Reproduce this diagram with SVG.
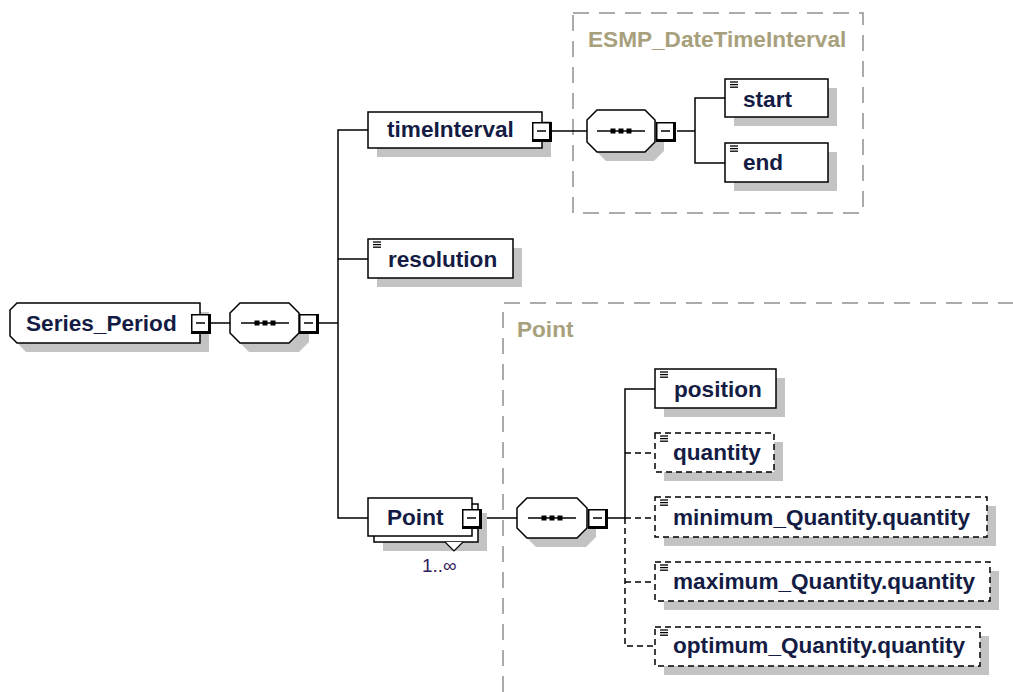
<svg xmlns="http://www.w3.org/2000/svg" width="1013" height="692" viewBox="0 0 1013 692">
<defs>
<style>
.bg{fill:#ffffff}
.box{fill:#ffffff;stroke:#000000;stroke-width:1.5}
.dbox{fill:#ffffff;stroke:#000000;stroke-width:1.5;stroke-dasharray:6 4}
.sh{fill:#c3c3c3}
.t{font-family:"Liberation Sans",Arial,sans-serif;font-weight:bold;font-size:22.6px;fill:#141c44}
.g{font-family:"Liberation Sans",Arial,sans-serif;font-weight:bold;font-size:22.6px;fill:#a8a07c}
.m{font-family:"Liberation Sans",Arial,sans-serif;font-size:19px;fill:#30205a}
.ln{fill:none;stroke:#000000;stroke-width:1.5}
.dl{fill:none;stroke:#000000;stroke-width:1.5;stroke-dasharray:6 4}
.grp{fill:none;stroke:#909090;stroke-width:1.5;stroke-dasharray:16 10}
.ic{stroke:#000000;stroke-width:1.3}
</style>
<g id="minus">
<rect x="-10" y="-10" width="20" height="20" fill="#000000"/>
<rect x="-8.5" y="-8.5" width="15.5" height="15.5" fill="#ffffff"/>
<line x1="-5" y1="-1" x2="4" y2="-1" stroke="#000000" stroke-width="1.5"/>
</g>
<g id="icon">
<line class="ic" x1="0" y1="0" x2="8" y2="0"/>
<line class="ic" x1="0" y1="2.6" x2="8" y2="2.6"/>
<line class="ic" x1="0" y1="5.2" x2="8" y2="5.2"/>
</g>
<g id="seqsym">
<line x1="-24" y1="0" x2="24" y2="0" stroke="#000000" stroke-width="1.5"/>
<rect x="-10.5" y="-2.5" width="5" height="5" fill="#000000"/>
<rect x="-2.5" y="-2.5" width="5" height="5" fill="#000000"/>
<rect x="5.5" y="-2.5" width="5" height="5" fill="#000000"/>
</g>
</defs>
<rect class="bg" x="0" y="0" width="1013" height="692"/>

<g id="group-boxes">
<rect class="grp" x="573" y="13" width="290" height="200"/>
<text class="g" x="588" y="47">ESMP_DateTimeInterval</text>
<path class="grp" d="M503,692 V303 H1013"/>
<text class="g" x="517" y="337">Point</text>
</g>

<g id="connectors">
<line class="ln" x1="211" y1="323" x2="230" y2="323"/>
<line class="ln" x1="318" y1="323" x2="338" y2="323"/>
<path class="ln" d="M368,130 H338 V518 H368"/>
<line class="ln" x1="338" y1="259" x2="368" y2="259"/>
<line class="ln" x1="552" y1="131" x2="587" y2="131"/>
<line class="ln" x1="677" y1="131" x2="695" y2="131"/>
<path class="ln" d="M725,98 H695 V163 H725"/>
<line class="ln" x1="482" y1="518" x2="517" y2="518"/>
<line class="ln" x1="608" y1="518" x2="625" y2="518"/>
<path class="ln" d="M655,389 H625 V518"/>
<path class="dl" d="M625,518 V646 H655"/>
<line class="dl" x1="625" y1="453" x2="655" y2="453"/>
<line class="dl" x1="625" y1="518" x2="655" y2="518"/>
<line class="dl" x1="625" y1="582" x2="655" y2="582"/>
</g>

<g id="Series_Period">
<path class="sh" d="M26,312 H209 V352 H26 L19,345 V319 Z"/>
<path class="box" d="M17,303 H200 V343 H17 L10,336 V310 Z"/>
<text class="t" x="26" y="331">Series_Period</text>
<use href="#minus" x="201" y="324"/>
</g>

<g id="sequence-main">
<path class="sh" d="M249,312 H299 L309,322 V342 L299,352 H249 L239,342 V322 Z"/>
<path class="box" d="M240,303 H289 L299,313 V333 L289,343 H240 L230,333 V313 Z"/>
<use href="#seqsym" x="265" y="323"/>
<use href="#minus" x="309" y="324"/>
</g>

<g id="timeInterval">
<rect class="sh" x="377" y="121" width="174" height="36"/>
<rect class="box" x="368" y="112" width="174" height="36"/>
<text class="t" x="387" y="137">timeInterval</text>
<use href="#minus" x="542" y="132"/>
</g>

<g id="sequence-ESMP">
<path class="sh" d="M606,119 H654 L664,129 V151 L654,161 H606 L596,151 V129 Z"/>
<path class="box" d="M597,110 H645 L655,120 V142 L645,152 H597 L587,142 V120 Z"/>
<use href="#seqsym" x="621" y="131"/>
<use href="#minus" x="666" y="132"/>
</g>

<g id="start">
<rect class="sh" x="734" y="88" width="103" height="38"/>
<rect class="box" x="725" y="79" width="103" height="38"/>
<use href="#icon" x="730" y="82"/>
<text class="t" x="743" y="107">start</text>
</g>

<g id="end">
<rect class="sh" x="734" y="152" width="103" height="39"/>
<rect class="box" x="725" y="143" width="103" height="39"/>
<use href="#icon" x="730" y="146"/>
<text class="t" x="743" y="170">end</text>
</g>

<g id="resolution">
<rect class="sh" x="377" y="248" width="145" height="39"/>
<rect class="box" x="368" y="239" width="145" height="39"/>
<use href="#icon" x="373" y="242"/>
<text class="t" x="388" y="267">resolution</text>
</g>

<g id="Point">
<rect class="sh" x="383" y="513" width="104" height="38"/>
<rect class="box" x="374" y="504" width="104" height="38"/>
<rect class="box" x="368" y="498" width="104" height="38"/>
<text class="t" x="387" y="525">Point</text>
<use href="#minus" x="472" y="519"/>
<path d="M445,542 L454,551 L463,542" fill="#ffffff" stroke="#000000" stroke-width="1.2"/>
<text class="m" x="422" y="572">1..∞</text>
</g>

<g id="sequence-Point">
<path class="sh" d="M536,507 H586 L596,517 V537 L586,547 H536 L526,537 V517 Z"/>
<path class="box" d="M527,498 H577 L587,508 V528 L577,538 H527 L517,528 V508 Z"/>
<use href="#seqsym" x="552" y="518"/>
<use href="#minus" x="598" y="519"/>
</g>

<g id="position">
<rect class="sh" x="664" y="378" width="121" height="39"/>
<rect class="box" x="655" y="369" width="121" height="39"/>
<use href="#icon" x="660" y="372"/>
<text class="t" x="674" y="397">position</text>
</g>

<g id="quantity">
<rect class="sh" x="664" y="442" width="119" height="39"/>
<rect class="dbox" x="655" y="433" width="119" height="39"/>
<use href="#icon" x="660" y="436"/>
<text class="t" x="673" y="460">quantity</text>
</g>

<g id="minimum_Quantity.quantity">
<rect class="sh" x="664" y="506" width="332" height="40"/>
<rect class="dbox" x="655" y="497" width="332" height="40"/>
<use href="#icon" x="660" y="500"/>
<text class="t" x="673" y="525">minimum_Quantity.quantity</text>
</g>

<g id="maximum_Quantity.quantity">
<rect class="sh" x="664" y="571" width="335" height="39"/>
<rect class="dbox" x="655" y="562" width="335" height="39"/>
<use href="#icon" x="660" y="565"/>
<text class="t" x="673" y="589">maximum_Quantity.quantity</text>
</g>

<g id="optimum_Quantity.quantity">
<rect class="sh" x="664" y="636" width="325" height="39"/>
<rect class="dbox" x="655" y="627" width="325" height="39"/>
<use href="#icon" x="660" y="630"/>
<text class="t" x="673" y="653">optimum_Quantity.quantity</text>
</g>
</svg>
